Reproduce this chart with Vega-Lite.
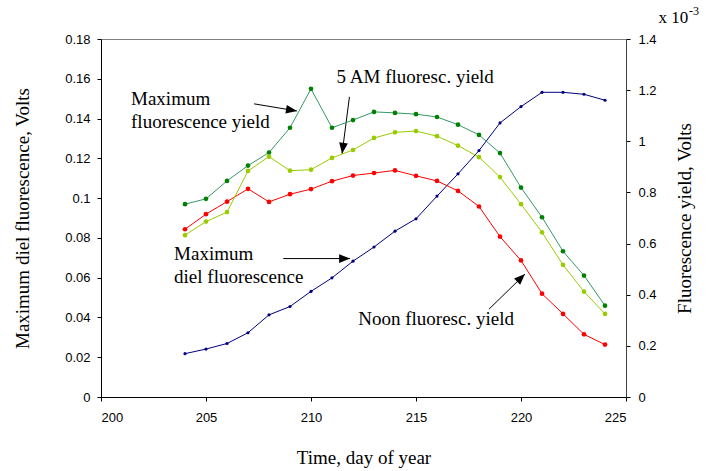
{
  "$schema": "https://vega.github.io/schema/vega-lite/v6.json",
  "width": 525,
  "height": 358,
  "autosize": "none",
  "padding": {"left": 101, "top": 39, "right": 81, "bottom": 74},
  "background": "white",
  "config": {
    "view": {"stroke": "#808080", "strokeWidth": 1},
    "axis": {
      "grid": false,
      "tickSize": 4,
      "domainColor": "black",
      "tickColor": "black",
      "labelColor": "black",
      "labelFont": "Liberation Sans",
      "labelFontSize": 13,
      "titleFont": "Liberation Serif",
      "titleFontSize": 19,
      "titleFontWeight": "normal",
      "titleColor": "black"
    }
  },
  "datasets": {
    "diel": [
      {"day": 204, "value": 0.0218}, {"day": 205, "value": 0.0241}, {"day": 206, "value": 0.0269},
      {"day": 207, "value": 0.0323}, {"day": 208, "value": 0.0413}, {"day": 209, "value": 0.0455},
      {"day": 210, "value": 0.0531}, {"day": 211, "value": 0.0599}, {"day": 212, "value": 0.0683},
      {"day": 213, "value": 0.0754}, {"day": 214, "value": 0.0834}, {"day": 215, "value": 0.0896},
      {"day": 216, "value": 0.1010}, {"day": 217, "value": 0.1122}, {"day": 218, "value": 0.1239},
      {"day": 219, "value": 0.1378}, {"day": 220, "value": 0.1460}, {"day": 221, "value": 0.1532},
      {"day": 222, "value": 0.1532}, {"day": 223, "value": 0.1522}, {"day": 224, "value": 0.1492}
    ],
    "yield": [
      {"day": 204, "series": "Noon", "value": 0.656}, {"day": 205, "series": "Noon", "value": 0.715},
      {"day": 206, "series": "Noon", "value": 0.764}, {"day": 207, "series": "Noon", "value": 0.814},
      {"day": 208, "series": "Noon", "value": 0.763}, {"day": 209, "series": "Noon", "value": 0.793},
      {"day": 210, "series": "Noon", "value": 0.813}, {"day": 211, "series": "Noon", "value": 0.844},
      {"day": 212, "series": "Noon", "value": 0.866}, {"day": 213, "series": "Noon", "value": 0.876},
      {"day": 214, "series": "Noon", "value": 0.886}, {"day": 215, "series": "Noon", "value": 0.865},
      {"day": 216, "series": "Noon", "value": 0.845}, {"day": 217, "series": "Noon", "value": 0.806},
      {"day": 218, "series": "Noon", "value": 0.745}, {"day": 219, "series": "Noon", "value": 0.627},
      {"day": 220, "series": "Noon", "value": 0.534}, {"day": 221, "series": "Noon", "value": 0.404},
      {"day": 222, "series": "Noon", "value": 0.325}, {"day": 223, "series": "Noon", "value": 0.245},
      {"day": 224, "series": "Noon", "value": 0.205},
      {"day": 204, "series": "Max", "value": 0.754}, {"day": 205, "series": "Max", "value": 0.775},
      {"day": 206, "series": "Max", "value": 0.845}, {"day": 207, "series": "Max", "value": 0.905},
      {"day": 208, "series": "Max", "value": 0.956}, {"day": 209, "series": "Max", "value": 1.053},
      {"day": 210, "series": "Max", "value": 1.205}, {"day": 211, "series": "Max", "value": 1.053},
      {"day": 212, "series": "Max", "value": 1.083}, {"day": 213, "series": "Max", "value": 1.115},
      {"day": 214, "series": "Max", "value": 1.111}, {"day": 215, "series": "Max", "value": 1.106},
      {"day": 216, "series": "Max", "value": 1.095}, {"day": 217, "series": "Max", "value": 1.065},
      {"day": 218, "series": "Max", "value": 1.025}, {"day": 219, "series": "Max", "value": 0.954},
      {"day": 220, "series": "Max", "value": 0.819}, {"day": 221, "series": "Max", "value": 0.703},
      {"day": 222, "series": "Max", "value": 0.570}, {"day": 223, "series": "Max", "value": 0.475},
      {"day": 224, "series": "Max", "value": 0.357},
      {"day": 204, "series": "AM5", "value": 0.633}, {"day": 205, "series": "AM5", "value": 0.686},
      {"day": 206, "series": "AM5", "value": 0.723}, {"day": 207, "series": "AM5", "value": 0.884},
      {"day": 208, "series": "AM5", "value": 0.940}, {"day": 209, "series": "AM5", "value": 0.885},
      {"day": 210, "series": "AM5", "value": 0.889}, {"day": 211, "series": "AM5", "value": 0.935},
      {"day": 212, "series": "AM5", "value": 0.966}, {"day": 213, "series": "AM5", "value": 1.013},
      {"day": 214, "series": "AM5", "value": 1.035}, {"day": 215, "series": "AM5", "value": 1.040},
      {"day": 216, "series": "AM5", "value": 1.020}, {"day": 217, "series": "AM5", "value": 0.983},
      {"day": 218, "series": "AM5", "value": 0.938}, {"day": 219, "series": "AM5", "value": 0.860},
      {"day": 220, "series": "AM5", "value": 0.754}, {"day": 221, "series": "AM5", "value": 0.644},
      {"day": 222, "series": "AM5", "value": 0.517}, {"day": 223, "series": "AM5", "value": 0.412},
      {"day": 224, "series": "AM5", "value": 0.325}
    ],
    "labels": [
      {"day": 201.43, "value": 0.1468, "text": "Maximum"},
      {"day": 201.43, "value": 0.1351, "text": "fluorescence yield"},
      {"day": 211.22, "value": 0.1578, "text": "5 AM fluoresc. yield"},
      {"day": 203.48, "value": 0.0690, "text": "Maximum"},
      {"day": 203.48, "value": 0.0573, "text": "diel fluorescence"},
      {"day": 212.25, "value": 0.0360, "text": "Noon fluoresc. yield"}
    ],
    "arrows": [
      {"day": 207.29, "value": 0.1474, "day2": 209.33, "value2": 0.1438},
      {"day": 211.83, "value": 0.1509, "day2": 211.48, "value2": 0.1223},
      {"day": 208.68, "value": 0.0696, "day2": 211.86, "value2": 0.0696},
      {"day": 218.48, "value": 0.0442, "day2": 220.19, "value2": 0.0618}
    ]
  },
  "layer": [
    {
      "encoding": {
        "x": {
          "field": "day", "type": "quantitative",
          "scale": {"domain": [200, 225], "nice": false, "zero": false},
          "axis": {"values": [200, 205, 210, 215, 220, 225], "format": "d", "title": "Time, day of year", "labelPadding": 10, "titlePadding": 24}
        },
        "y": {
          "field": "value", "type": "quantitative",
          "scale": {"domain": [0, 0.18], "nice": false},
          "axis": {"orient": "left", "values": [0, 0.02, 0.04, 0.06, 0.08, 0.1, 0.12, 0.14, 0.16, 0.18], "format": "~g", "title": "Maximum diel fluorescence, Volts", "labelPadding": 7, "titlePadding": 32}
        }
      },
      "layer": [
        {"data": {"name": "diel"}, "mark": {"type": "line", "interpolate": "linear", "color": "#000080", "strokeWidth": 1}, "encoding": {}},
        {"data": {"name": "diel"}, "mark": {"type": "circle", "color": "#000080", "size": 10, "opacity": 1}, "encoding": {}},
        {"data": {"name": "labels"}, "mark": {"type": "text", "align": "left", "baseline": "alphabetic", "font": "Liberation Serif", "fontSize": 19, "color": "black"}, "encoding": {"text": {"field": "text"}}},
        {"data": {"name": "arrows"}, "mark": {"type": "rule", "color": "black", "strokeWidth": 1}, "encoding": {"x2": {"field": "day2"}, "y2": {"field": "value2"}}},
        {"data": {"values": [{"day": 209.33, "value": 0.1438}]}, "mark": {"type": "point", "shape": "M0,0L-0.4,1L0.4,1Z", "size": 480, "filled": true, "color": "black", "opacity": 1, "angle": 99}, "encoding": {}},
        {"data": {"values": [{"day": 211.48, "value": 0.1223}]}, "mark": {"type": "point", "shape": "M0,0L-0.4,1L0.4,1Z", "size": 480, "filled": true, "color": "black", "opacity": 1, "angle": 187.5}, "encoding": {}},
        {"data": {"values": [{"day": 211.86, "value": 0.0696}]}, "mark": {"type": "point", "shape": "M0,0L-0.4,1L0.4,1Z", "size": 480, "filled": true, "color": "black", "opacity": 1, "angle": 90}, "encoding": {}},
        {"data": {"values": [{"day": 220.19, "value": 0.0618}]}, "mark": {"type": "point", "shape": "M0,0L-0.4,1L0.4,1Z", "size": 480, "filled": true, "color": "black", "opacity": 1, "angle": 46}, "encoding": {}},
        {"data": {"values": [{"day": 226.55, "value": 0.1879, "text": "x 10"}]}, "mark": {"type": "text", "align": "left", "baseline": "alphabetic", "font": "Liberation Serif", "fontSize": 17, "color": "black"}, "encoding": {"text": {"field": "text"}}},
        {"data": {"values": [{"day": 228.0, "value": 0.1922, "text": "-3"}]}, "mark": {"type": "text", "align": "left", "baseline": "alphabetic", "font": "Liberation Serif", "fontSize": 12, "color": "black"}, "encoding": {"text": {"field": "text"}}}
      ]
    },
    {
      "data": {"name": "yield"},
      "encoding": {
        "x": {"field": "day", "type": "quantitative", "scale": {"domain": [200, 225], "nice": false, "zero": false}, "axis": {"values": [200, 205, 210, 215, 220, 225], "format": "d", "title": "Time, day of year", "labelPadding": 10, "titlePadding": 24}},
        "y": {
          "field": "value", "type": "quantitative",
          "scale": {"domain": [0, 1.4], "nice": false},
          "axis": {"orient": "right", "values": [0, 0.2, 0.4, 0.6, 0.8, 1, 1.2, 1.4], "format": "~g", "title": "Fluorescence yield, Volts", "titleAngle": -90, "labelPadding": 8, "titlePadding": 38, "domainColor": "#404040"}
        }
      },
      "layer": [
        {"mark": {"type": "line", "interpolate": "linear", "strokeWidth": 1},
         "encoding": {"color": {"field": "series", "type": "nominal", "scale": {"domain": ["Noon", "Max", "AM5"], "range": ["#FF0000", "#339966", "#99CC00"]}, "legend": null}}},
        {"mark": {"type": "circle", "size": 22, "opacity": 1},
         "encoding": {"fill": {"field": "series", "type": "nominal", "scale": {"domain": ["Noon", "Max", "AM5"], "range": ["#FF0000", "#008000", "#99CC00"]}, "legend": null}}}
      ]
    }
  ],
  "resolve": {"scale": {"y": "independent"}}
}
